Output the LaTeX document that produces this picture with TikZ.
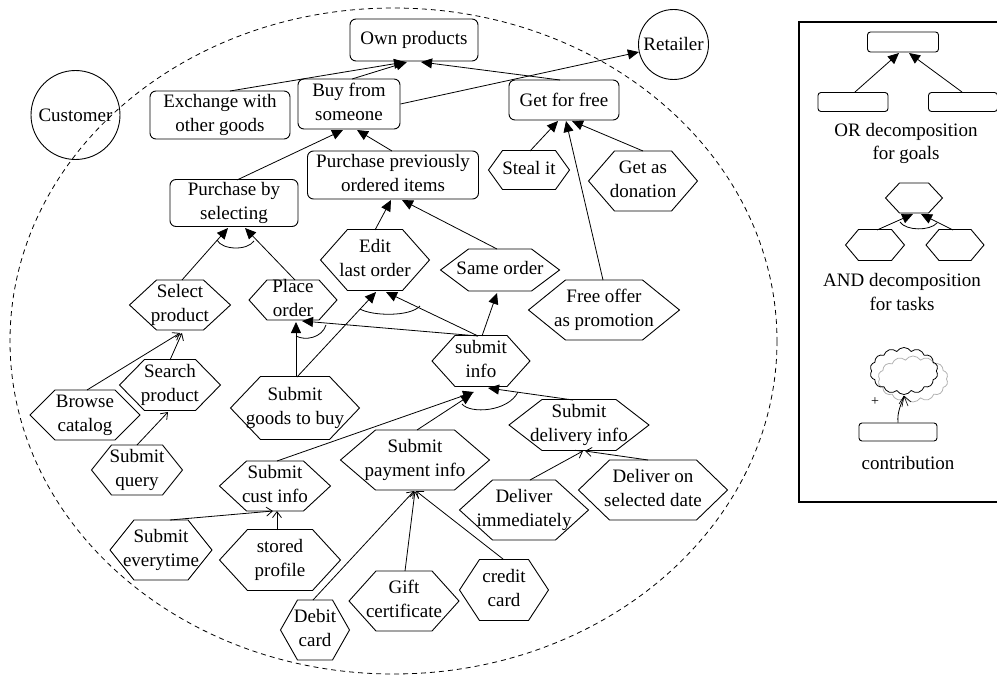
\documentclass[tikz,border=0pt]{standalone}
\usepackage{fontspec}
\setmainfont{Liberation Serif}
\usetikzlibrary{arrows.meta,calc,shapes.symbols}

% centred lines of text
\newcommand\tlines[1]{\begin{tabular}{@{}c@{}}#1\end{tabular}}
% task hexagon: [text raise]{name}{x}{y}{width}{height}{side inset}{text}
\newcommand\taskhex[8][0]{%
  \draw[hexline] ({#3-#5/2},#4) -- ({#3-#5/2+#7},{#4-#6/2}) -- ({#3+#5/2-#7},{#4-#6/2})
    -- ({#3+#5/2},#4) -- ({#3+#5/2-#7},{#4+#6/2}) -- ({#3-#5/2+#7},{#4+#6/2}) -- cycle;
  \node[tasktext] (#2) at (#3,#4) {\raisebox{#1pt}{\tlines{#8}}};}

\tikzset{
  every node/.style={font=\fontsize{19}{23.5}\selectfont},
  goal/.style={draw, rounded corners=6pt, inner sep=0pt, line width=0.9pt},
  smallgoal/.style={draw, rounded corners=3pt, inner sep=0pt, line width=0.9pt},
  actor/.style={draw, circle, inner sep=0pt, line width=0.9pt},
  hexline/.style={draw, line width=0.9pt, line join=miter},
  tasktext/.style={inner sep=0pt},
  link/.style={line width=0.8pt, -{Triangle[length=11pt,width=10pt]}},
  contrib/.style={line width=0.8pt, -{Straight Barb[length=6pt,width=9pt]}},
  andarc/.style={line width=0.8pt},
  boundary/.style={dashed, dash pattern=on 5pt off 4pt, line width=0.8pt},
  legendframe/.style={line width=1.2pt},
  puff/.style={cloud, cloud puffs=14, cloud puff arc=115, aspect=1.4, inner sep=0pt, line width=0.8pt},
}

\begin{document}
\begin{tikzpicture}[x=1pt, y=-1pt]
\useasboundingbox (0,0) rectangle (997,677);

% actor boundary
\draw[boundary] (393.5,341) ellipse [x radius=383.5, y radius=333];

% actors
\node[actor, minimum size=89pt] (cust0) at (75.5,115) {Customer};
\node[actor, minimum size=70pt] (ret) at (673.5,44.5) {Retailer};

% goals
\node[goal, minimum width=128pt, minimum height=42pt] (own) at (414,40) {Own products};
\node[goal, minimum width=140pt, minimum height=48pt] (exch) at (220,115) {\tlines{Exchange with\\other goods}};
\node[goal, minimum width=102pt, minimum height=50pt] (buy) at (349,104) {\tlines{Buy from\\someone}};
\node[goal, minimum width=110pt, minimum height=40pt] (free) at (564,100) {Get for free};
\node[goal, minimum width=171pt, minimum height=48pt] (ppoi) at (393,175) {\tlines{Purchase previously\\ordered items}};
\node[goal, minimum width=128pt, minimum height=46pt] (pbs) at (234,203) {\tlines{Purchase by\\selecting}};

% tasks
\taskhex{steal}{529}{170}{81}{39}{14}{Steal it}
\taskhex{don}{643}{181}{109}{60}{26}{Get as\\donation}
\taskhex{edit}{375}{260}{109}{61}{27}{Edit\\last order}
\taskhex{same}{500}{270}{119}{42}{28}{Same order}
\taskhex{offer}{604}{310}{151}{60}{37}{Free offer\\as promotion}
\taskhex{info}{481}{361}{98}{51}{23}{submit\\info}
\taskhex[4]{deliv}{579}{425}{140}{51}{33}{Submit\\delivery info}
\taskhex{select}{180}{305}{101}{50}{27}{Select\\product}
\taskhex{place}{293}{300}{88}{40}{18}{Place\\order}
\taskhex[4]{search}{170}{385}{101}{51}{25}{Search\\product}
\taskhex[4]{browse}{85}{415}{110}{50}{25}{Browse\\catalog}
\taskhex[8]{goods}{295}{408}{129}{63}{30}{Submit\\goods to buy}
\taskhex{query}{137}{470}{91}{50}{20}{Submit\\query}
\taskhex[4]{cust}{275}{486}{111}{50}{27}{Submit\\cust info}
\taskhex{pay}{415}{460}{149}{60}{35}{Submit\\payment info}
\taskhex[9]{every}{161}{550}{102}{60}{24}{Submit\\everytime}
\taskhex{stored}{280}{560}{121}{61}{28}{stored\\profile}
\taskhex[9]{imm}{524}{510}{129}{60}{33}{Deliver\\immediately}
\taskhex[9]{sel}{653}{490}{149}{60}{31}{Deliver on\\selected date}
\taskhex{gift}{404}{601}{110}{60}{27}{Gift\\certificate}
\taskhex{credit}{504}{590}{89}{61}{20}{credit\\card}
\taskhex{debit}{315}{630}{69}{60}{17}{Debit\\card}

% decomposition links
\draw[link] ($(exch)+(10,-24)$) -- ($(own)+(-9,22)$);
\draw[link] ($(buy)+(3,-25)$) -- ($(own)+(-7,22)$);
\draw[link] ($(free)+(-4,-20)$) -- ($(own)+(7,22)$);
\draw[link] (buy.east) -- (ret);
\draw[link] ($(pbs)+(3,-23)$) -- ($(buy)+(-6,26)$);
\draw[link] ($(ppoi)+(-1,-24)$) -- ($(buy)+(8,26)$);
\draw[link] ($(steal)+(1,-19)$) -- ($(free)+(-6,21)$);
\draw[link] ($(offer)+(-1,-30)$) -- ($(free)+(2,21)$);
\draw[link] ($(don)+(0,-30)$) -- ($(free)+(8,21)$);
\draw[link] ($(edit)+(0,-30)$) -- ($(ppoi)+(-2,25)$);
\draw[link] ($(same)+(-3,-21)$) -- ($(ppoi)+(9,25)$);
\draw[link] ($(select)+(2,-25)$) -- ($(pbs)+(-6,25)$);
\draw[link] ($(place)+(2,-20)$) -- ($(pbs)+(11,25)$);
\draw[link] ($(goods)+(1,-31)$) -- ($(place)+(3,22)$);
\draw[link] ($(goods)+(2,-31)$) -- ($(edit)+(1,32)$);
\draw[link] ($(info)+(-3,-25)$) -- ($(place)+(9,21)$);
\draw[link] ($(info)+(-3,-25)$) -- ($(edit)+(11,32)$);
\draw[link] ($(info)+(1,-25)$) -- ($(same)+(-3,23)$);
\draw[link] ($(cust)+(2,-25)$) -- ($(info)+(-7,31)$);
\draw[link] ($(pay)+(2,-30)$) -- ($(info)+(-9,33)$);
\draw[link] ($(deliv)+(-6,-25)$) -- ($(info)+(7,27)$);

% contribution links
\draw[contrib] ($(browse)+(2,-25)$) -- ($(select)+(0,28)$);
\draw[contrib] ($(search)+(0,-25)$) -- ($(select)+(2,28)$);
\draw[contrib] ($(query)+(0,-25)$) -- ($(search)+(-2,27)$);
\draw[contrib] ($(every)+(9,-30)$) -- ($(cust)+(-2,25)$);
\draw[contrib] ($(stored)+(-3,-30)$) -- ($(cust)+(2,25)$);
\draw[contrib] ($(debit)+(-2,-30)$) -- ($(pay)+(-1,31)$);
\draw[contrib] ($(gift)+(1,-30)$) -- ($(pay)+(0,31)$);
\draw[contrib] ($(credit)+(-1,-31)$) -- ($(pay)+(1,31)$);
\draw[contrib] ($(imm)+(6,-30)$) -- ($(deliv)+(4,26)$);
\draw[contrib] ($(sel)+(-5,-30)$) -- ($(deliv)+(6,26)$);

% AND arcs
\draw[andarc] (217,240) .. controls (222,250) and (247,251) .. (254,241);
\draw[andarc] (296,336) .. controls (305,341) and (322,338) .. (326,325);
\draw[andarc] (360,309) .. controls (372,316) and (410,317) .. (420,306);
\draw[andarc] (462,404) .. controls (470,414) and (508,412) .. (518,392);

% legend
\draw[legendframe] (799,22) rectangle (1012,502);

\node[smallgoal, minimum width=71pt, minimum height=20pt] (lgtop) at (903,42) {};
\node[smallgoal, minimum width=70pt, minimum height=19pt] (lgleft) at (853,102) {};
\node[smallgoal, minimum width=69pt, minimum height=19pt] (lgright) at (963,102) {};
\draw[link] ($(lgleft)+(2,-10)$) -- ($(lgtop)+(-4,11)$);
\draw[link] ($(lgright)+(-1,-10)$) -- ($(lgtop)+(6,11)$);
\node (ortext) at (906,143.5) {\tlines{OR decomposition\\for goals}};

\taskhex{lhtop}{914}{198}{57}{30}{14}{}
\taskhex{lhleft}{875}{245}{59}{31}{13}{}
\taskhex{lhright}{955}{245}{58}{31}{13}{}
\draw[link] ($(lhleft)+(2,-15)$) -- ($(lhtop)+(-1,16)$);
\draw[link] ($(lhright)+(-2,-15)$) -- ($(lhtop)+(7,16)$);
\draw[andarc] (900,222) .. controls (906,231) and (930,231) .. (937,223);
\node (andtext) at (902,294) {\tlines{AND decomposition\\for tasks}};

\node[puff, draw=gray!60, minimum width=70pt, minimum height=46pt] (cloudb) at (913,379) {};
\node[puff, draw=black, minimum width=68pt, minimum height=47pt] (clouda) at (904,371) {};
\node[smallgoal, minimum width=78pt, minimum height=18pt] (lgc) at (898,432) {};
\coordinate (cfork) at (904,396);
\draw[line width=0.8pt] (lgc.north) .. controls (897,412) and (901,405) .. (cfork);
\draw[line width=0.6pt] (cfork) -- ++(-5,8) (cfork) -- ++(4,10) (cfork) -- ++(7,6) (cfork) -- ++(-2,11);
\node[font=\fontsize{14}{16}\selectfont] (plus) at (875,402) {+};
\node (ctext) at (908,463) {contribution};
\end{tikzpicture}
\end{document}
